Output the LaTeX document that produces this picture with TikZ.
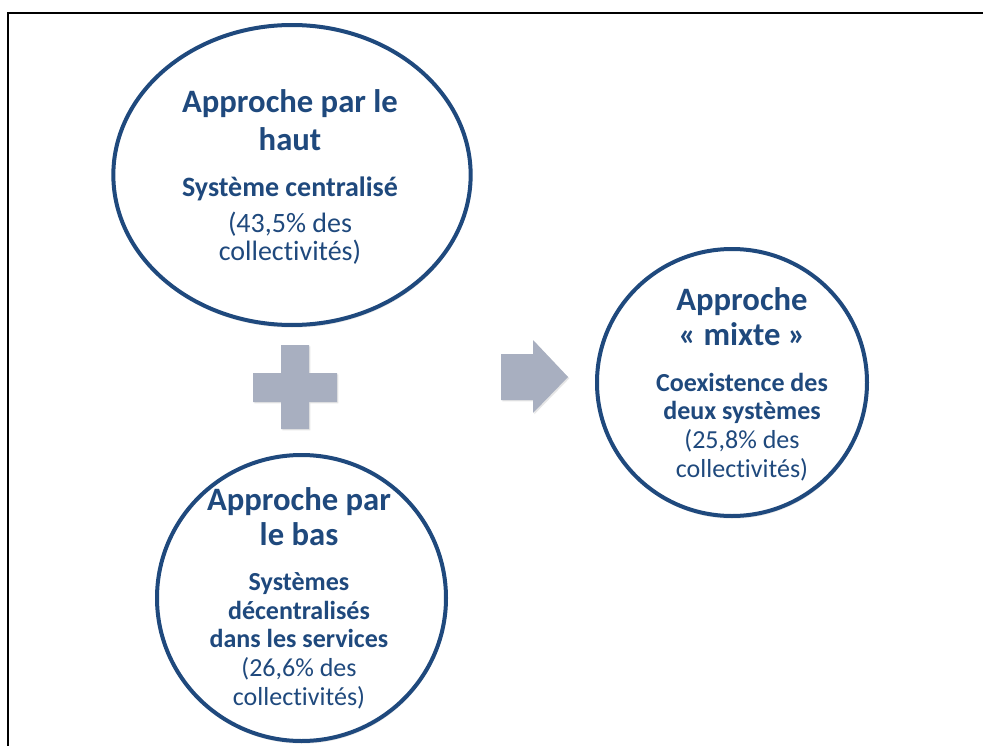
\documentclass[tikz,border=0pt]{standalone}
\usepackage{fontspec}
\setmainfont{Carlito}[RawFeature={-liga;-calt;-clig}]
\usetikzlibrary{shapes.geometric, shadows}

\definecolor{navy}{RGB}{31,73,125}
\definecolor{signgray}{RGB}{168,175,192}

\begin{document}
\begin{tikzpicture}[
    x=0.75pt, y=-0.75pt,
    bubble/.style={ellipse, draw=navy, line width=3pt, fill=white, inner sep=0pt,
        drop shadow={opacity=0.18, shadow xshift=0.5pt, shadow yshift=-2pt}},
    title/.style={font=\fontsize{24.5}{26.25}\selectfont\bfseries, text=navy, align=center, anchor=base, inner sep=0pt},
    body/.style={font=\fontsize{19.5}{21.5}\selectfont, text=navy, align=center, anchor=base, inner sep=0pt},
    sign/.style={fill=signgray, drop shadow={opacity=0.2, shadow xshift=1pt, shadow yshift=-1pt}}
]
    \useasboundingbox (0,0) rectangle (983,746);

    % Cadre
    \draw[line width=1.5pt] (983,13) -- (8,13) -- (8,746);

    % Les trois approches
    \node[bubble, minimum width=268pt, minimum height=225pt] (haut) at (292,175) {};
    \node[bubble, minimum width=216.75pt, minimum height=214.5pt] (bas) at (301.5,598) {};
    \node[bubble, minimum width=202.5pt, minimum height=200.25pt] (mixte) at (732,382.5) {};

    % Textes (haut) -- ancre sur la derniere ligne
    \node[title, font=\fontsize{24.5}{28.5}\selectfont\bfseries] (haut-t) at (290,150) {Approche par le\\haut};
    \node[body, font=\fontsize{21}{21}\selectfont] (haut-b) at (290,260) {\textbf{Système centralisé}\\[6pt](43,5\% des\\collectivités)};

    % Textes (bas)
    \node[title] (bas-t) at (299,545) {Approche par\\le bas};
    \node[body] (bas-b) at (299,705) {\textbf{Systèmes}\\\textbf{décentralisés}\\\textbf{dans les services}\\(26,6\% des\\collectivités)};

    % Textes (mixte)
    \node[title] (mixte-t) at (742,345) {Approche\\« mixte »};
    \node[body] (mixte-b) at (742,477) {\textbf{Coexistence des}\\\textbf{deux systèmes}\\(25,8\% des\\collectivités)};

    % Signe plus
    \fill[sign] (281,345) -- (309,345) -- (309,373) -- (337,373) -- (337,402) -- (309,402)
        -- (309,429) -- (281,429) -- (281,402) -- (253,402) -- (253,373) -- (281,373) -- cycle;

    % Fleche
    \fill[sign] (501,354) -- (533,354) -- (533,340) -- (568,377) -- (533,413) -- (533,400)
        -- (501,400) -- cycle;
\end{tikzpicture}
\end{document}
